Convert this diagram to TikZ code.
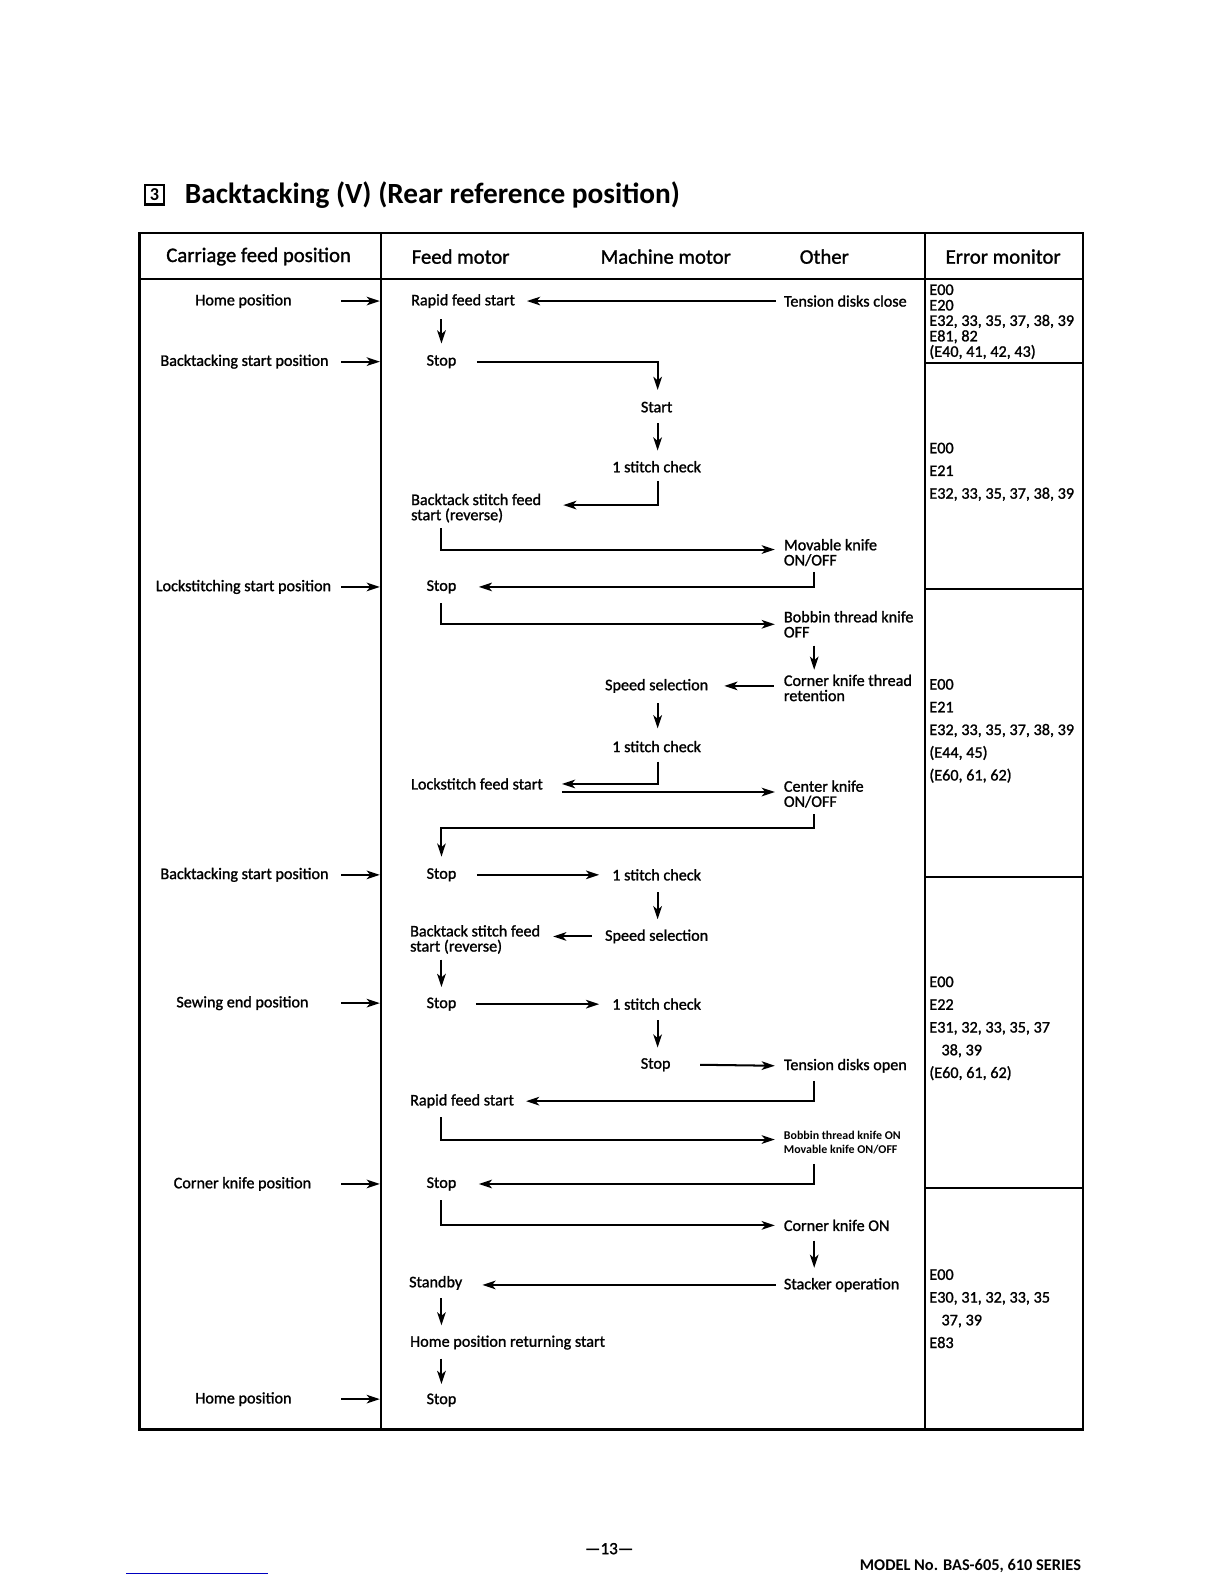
\documentclass[tikz,border=0pt]{standalone}
\usepackage{fontspec}
\setmainfont{Carlito}
\newfontfamily\bodyfont{Carlito}[FakeBold=1.3]
\usetikzlibrary{arrows.meta,calc}
\begin{document}
\begin{tikzpicture}[x=1pt,y=-1pt,
  every node/.style={inner sep=0pt, outer sep=0pt},
  txt/.style={font=\bodyfont\fontsize{16}{15}\selectfont, anchor=west, align=left},
  ctr/.style={font=\bodyfont\fontsize{16}{15}\selectfont, anchor=center},
  hdr/.style={font=\bodyfont\fontsize{20.5}{22}\selectfont},
  err/.style={font=\bodyfont\fontsize{16}{22.5}\selectfont, anchor=west, align=left},
  flow/.style={line width=2pt, -{Stealth[length=13pt,width=8.5pt,inset=3.5pt]}},
  frame/.style={line width=2.2pt},
]
\fill[white] (0,0) rectangle (1212,1568);
\useasboundingbox (0,0) rectangle (1212,1568);

% title
\node[draw, line width=2.2pt, minimum size=19pt, font=\bfseries\fontsize{18}{18}\selectfont] (num) at (153,193) {3};
\node[anchor=west, font=\bfseries\fontsize{29}{30}\selectfont] (title) at (183,193) {Backtacking (V) (Rear reference position)};

% table frame
\draw[frame] (138,231) rectangle (1072,1415);
\draw[frame] (138,276) -- (1072,276);
\draw[frame] (377,231) -- (377,1415);
\draw[frame] (916,231) -- (916,1415);
\foreach \yy in {359,583,868,1176} \draw[frame] (916,\yy) -- (1072,\yy);

% headers
\node[hdr] (h1) at (256,254) {Carriage feed position};
\node[hdr] (h2) at (456,254) {Feed motor};
\node[hdr] (h3) at (659,254) {Machine motor};
\node[hdr] (h4) at (816,254) {Other};
\node[hdr] (h5) at (993,254) {Error monitor};

% column axes
\coordinate (fx) at (437,0);
\coordinate (mx) at (651,0);
\coordinate (ox) at (806,0);
\coordinate (lx) at (338,0);
\coordinate (sx) at (376,0);

% left column
\node[ctr] (hp1) at (241,298) {Home position};
\node[ctr] (bsp1) at (242,358) {Backtacking start position};
\node[ctr] (lsp) at (241,581) {Lockstitching start position};
\node[ctr] (bsp2) at (242,866) {Backtacking start position};
\node[ctr] (sep) at (240,993) {Sewing end position};
\node[ctr] (ckp) at (240,1172) {Corner knife position};
\node[ctr] (hp2) at (241,1385) {Home position};
\foreach \n in {hp1,bsp1,lsp,bsp2,sep,ckp,hp2}
  \draw[flow] (\n.center -| lx) -- (\n.center -| sx);

% flow nodes
\node[txt] (rfs1) at (407,298) {Rapid feed start};
\node[txt] (tdc) at (776,298) {Tension disks close};
\node[ctr] (stop1) at (437,358) {Stop};
\node[ctr] (start) at (650,403) {Start};
\node[ctr] (sc1) at (650,462) {1 stitch check};
\node[txt] (bsf1) at (407,503) {Backtack stitch feed\\start (reverse)};
\node[txt] (mk) at (776,547) {Movable knife\\ON/OFF};
\node[ctr] (stop2) at (437,581) {Stop};
\node[txt] (btk) at (776,618) {Bobbin thread knife\\OFF};
\node[txt] (ckt) at (776,681) {Corner knife thread\\retention};
\node[ctr] (ss1) at (650,679) {Speed selection};
\node[ctr] (sc2) at (650,739) {1 stitch check};
\node[txt] (lfs) at (407,776) {Lockstitch feed start};
\node[txt] (ck) at (776,786) {Center knife\\ON/OFF};
\node[ctr] (stop3) at (437,866) {Stop};
\node[ctr] (sc3) at (650,866) {1 stitch check};
\node[ctr] (ss2) at (650,927) {Speed selection};
\node[txt] (bsf2) at (406,930) {Backtack stitch feed\\start (reverse)};
\node[ctr] (stop4) at (437,994) {Stop};
\node[ctr] (sc4) at (650,994) {1 stitch check};
\node[ctr] (mstop) at (649,1054) {Stop};
\node[txt] (tdo) at (776,1055) {Tension disks open};
\node[txt] (rfs2) at (406,1090) {Rapid feed start};
\node[txt, font=\bfseries\fontsize{11.8}{14}\selectfont] (bko) at (776,1131) {Bobbin thread knife ON\\Movable knife ON/OFF};
\node[ctr] (stop5) at (437,1172) {Stop};
\node[txt] (ckon) at (776,1213) {Corner knife ON};
\node[txt] (stk) at (776,1272) {Stacker operation};
\node[txt] (stby) at (405,1270) {Standby};
\node[txt] (hprs) at (406,1329) {Home position returning start};
\node[ctr] (stop6) at (437,1386) {Stop};

% connectors
\draw[flow] ($(tdc.west)+(-8,0)$) -- ($(rfs1.east)+(12,0)$);
\draw[flow] ($(rfs1.center -| fx)+(0,18)$) -- ($(stop1.center)+(0,-18)$);
\draw[flow] ($(stop1.center)+(35,0)$) -| ($(start.center -| mx)+(0,-17)$);
\draw[flow] ($(start.center -| mx)+(0,16)$) -- ($(sc1.center -| mx)+(0,-16)$);
\draw[flow] ($(sc1.center -| mx)+(0,14)$) |- ($(bsf1.east)+(22,-3)$);
\draw[flow] ($(bsf1.center -| fx)+(0,20)$) |- ($(mk.west)+(-9,-3)$);
\draw[flow] ($(mk.center -| ox)+(0,19)$) |- ($(stop2.center)+(37,0)$);
\draw[flow] ($(stop2.center -| fx)+(0,16)$) |- ($(btk.west)+(-9,0)$);
\draw[flow] ($(btk.center -| ox)+(0,21)$) -- ($(ckt.center -| ox)+(0,-18)$);
\draw[flow] ($(ckt.west |- ss1.east)+(-10,0)$) -- ($(ss1.east)+(16,0)$);
\draw[flow] ($(ss1.center -| mx)+(0,17)$) -- ($(sc2.center -| mx)+(0,-18)$);
\draw[flow] ($(sc2.center -| mx)+(0,15)$) |- ($(lfs.east)+(19,0)$);
\draw[flow] ($(lfs.east)+(19,8)$) -- ($(ck.west |- lfs.east)+(-9,8)$);
\draw[flow] ($(ck.center -| ox)+(0,20)$) -- ++(0,14) -| ($(stop3.center)+(0,-18)$);
\draw[flow] ($(stop3.center)+(35,0)$) -- ($(sc3.west)+(-13,0)$);
\draw[flow] ($(sc3.center -| mx)+(0,17)$) -- ($(ss2.center -| mx)+(0,-17)$);
\draw[flow] ($(ss2.west)+(-13,0)$) -- ($(bsf2.east |- ss2.west)+(13,0)$);
\draw[flow] ($(bsf2.center -| fx)+(0,20)$) -- ($(stop4.center)+(0,-17)$);
\draw[flow] ($(stop4.center)+(34,0)$) -- ($(sc4.west)+(-13,0)$);
\draw[flow] ($(sc4.center -| mx)+(0,16)$) -- ($(mstop.center -| mx)+(0,-17)$);
\draw[flow] ($(mstop.center)+(44,0)$) -- ($(tdo.west)+(-9,0)$);
\draw[flow] ($(tdo.center -| ox)+(0,15)$) |- ($(rfs2.east)+(12,0)$);
\draw[flow] ($(rfs2.center -| fx)+(0,16)$) |- ($(bko.west)+(-9,-3)$);
\draw[flow] ($(bko.center -| ox)+(0,21)$) |- ($(stop5.center)+(37,0)$);
\draw[flow] ($(stop5.center -| fx)+(0,16)$) |- ($(ckon.west)+(-9,0)$);
\draw[flow] ($(ckon.center -| ox)+(0,15)$) -- ($(stk.center -| ox)+(0,-17)$);
\draw[flow] ($(stk.west)+(-8,0)$) -- ($(stby.east |- stk.west)+(20,0)$);
\draw[flow] ($(stby.center -| fx)+(0,15)$) -- ($(hprs.center -| fx)+(0,-17)$);
\draw[flow] ($(hprs.center -| fx)+(0,16)$) -- ($(stop6.center)+(0,-16)$);

% error monitor
\node[err, font=\bodyfont\fontsize{16}{15.3}\selectfont] (e1) at (920,318.5) {E00\\E20\\E32, 33, 35, 37, 38, 39\\E81, 82\\(E40, 41, 42, 43)};
\node[err] (e2) at (920,467) {E00\\E21\\E32, 33, 35, 37, 38, 39};
\node[err] (e3) at (920,723.5) {E00\\E21\\E32, 33, 35, 37, 38, 39\\(E44, 45)\\(E60, 61, 62)};
\node[err] (e4) at (920,1018) {E00\\E22\\E31, 32, 33, 35, 37\\\hspace*{12pt}38, 39\\(E60, 61, 62)};
\node[err] (e5) at (920,1295.5) {E00\\E30, 31, 32, 33, 35\\\hspace*{12pt}37, 39\\E83};

% footer
\node[font=\bodyfont\fontsize{17}{17}\selectfont] (pg) at (603,1533) {—13—};
\node[anchor=east, font=\bfseries\fontsize{16.2}{17}\selectfont] (model) at (1070,1550) {MODEL No. BAS-605, 610 SERIES};
\draw[blue!75!black, line width=1pt] (125,1558) -- (265,1558);
\end{tikzpicture}
\end{document}
